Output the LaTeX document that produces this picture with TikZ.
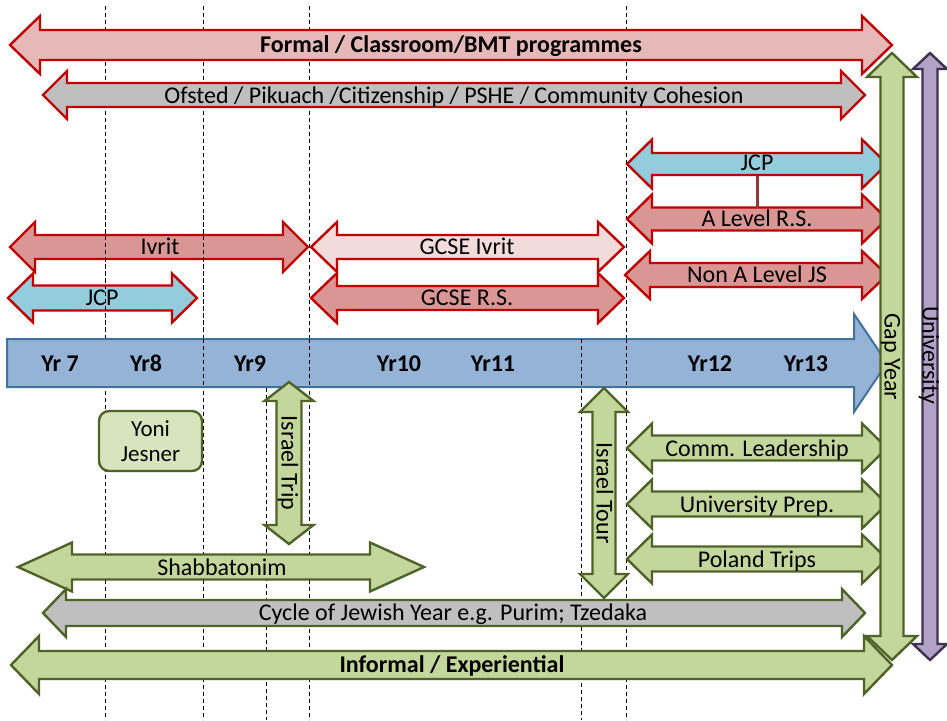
\documentclass[tikz,border=0pt]{standalone}
\usepackage{fontspec}
\setmainfont{Carlito}
\definecolor{bordRed}{HTML}{C00000}
\definecolor{fillFormal}{HTML}{E6B9B8}
\definecolor{fillGray}{HTML}{BFBFBF}
\definecolor{fillJcp}{HTML}{93CDDD}
\definecolor{fillRose}{HTML}{D99694}
\definecolor{fillPale}{HTML}{F2DCDB}
\definecolor{fillGreen}{HTML}{C3D69B}
\definecolor{bordGreen}{HTML}{4F6228}
\definecolor{fillYoni}{HTML}{D7E4BD}
\definecolor{fillBlue}{HTML}{95B3D7}
\definecolor{bordBlue}{HTML}{41719C}
\definecolor{fillPurple}{HTML}{B3A2C7}
\definecolor{bordPurple}{HTML}{403152}
\definecolor{linkRed}{HTML}{953735}
% horizontal double arrow: style, x1 tip, x2 tip, y centre, body half, head half, head length
\newcommand{\myHarrow}[7]{%
  \draw[#1] (#2,#4) -- ({#2+#7},{#4-#6}) -- ({#2+#7},{#4-#5}) -- ({#3-#7},{#4-#5}) -- ({#3-#7},{#4-#6}) -- (#3,#4)
    -- ({#3-#7},{#4+#6}) -- ({#3-#7},{#4+#5}) -- ({#2+#7},{#4+#5}) -- ({#2+#7},{#4+#6}) -- cycle;}
% vertical double arrow: style, x centre, y1 tip, y2 tip, body half, head half, head length
\newcommand{\myVarrow}[7]{%
  \draw[#1] (#2,#3) -- ({#2+#6},{#3+#7}) -- ({#2+#5},{#3+#7}) -- ({#2+#5},{#4-#7}) -- ({#2+#6},{#4-#7}) -- (#2,#4)
    -- ({#2-#6},{#4-#7}) -- ({#2-#5},{#4-#7}) -- ({#2-#5},{#3+#7}) -- ({#2-#6},{#3+#7}) -- cycle;}
\begin{document}
\begin{tikzpicture}[x=1pt,y=-1pt,
  redA/.style={draw=bordRed, line width=2.4pt, line join=miter},
  greenA/.style={draw=bordGreen, fill=fillGreen, line width=2.4pt, line join=miter},
  dashline/.style={draw=black, line width=0.9pt, dash pattern=on 4pt off 3pt},
  lbl/.style={font=\fontsize{24}{26}\selectfont, inner sep=0pt, text height=15pt, text depth=0pt},
  blbl/.style={lbl, font=\fontsize{24}{26}\selectfont\bfseries},
  link/.style={draw=linkRed, line width=3pt}]
\useasboundingbox (0,0) rectangle (947,720);
% dashed year separators (behind)
\foreach \xx in {105,203,309,626} \draw[dashline] (\xx,6) -- (\xx,720);
\draw[dashline] (266,388) -- (266,720);
\draw[dashline] (581,340) -- (581,720);
% formal arrows
\myHarrow{redA, fill=fillFormal}{10}{892}{45}{15}{29}{30}
\myHarrow{redA, fill=fillGray}{43}{865}{95}{12}{24}{24}
\myHarrow{redA, fill=fillJcp}{627}{887}{164}{11}{24.5}{25}
\myHarrow{redA, fill=fillRose}{627}{887}{219}{11.5}{24.5}{25}
\myHarrow{redA, fill=fillRose}{625}{887}{275}{12}{24}{25}
\myHarrow{redA, fill=fillRose}{10}{308}{247}{12}{25}{25}
\myHarrow{redA, fill=fillJcp}{8}{197}{298}{12.5}{24.5}{25}
\myHarrow{redA, fill=fillPale}{311}{624}{247}{12}{25}{26}
\myHarrow{redA, fill=fillRose}{311}{624}{298}{12}{25}{26}
% dashed lines visible on top of the lower red arrows
\draw[dashline] (105,215) -- (105,330);
\draw[dashline] (203,215) -- (203,330);
% connector JCP - A Level
\coordinate (jcpBot) at (757,175.5);
\coordinate (alevTop) at (757,207.5);
\draw[link] (jcpBot) -- (alevTop);
% year timeline arrow
\draw[draw=bordBlue, fill=fillBlue, line width=2pt, line join=miter]
  (7,339) -- (854,339) -- (854,314) -- (887,363) -- (854,412) -- (854,387) -- (7,387) -- cycle;
\draw[dashline] (203,339) -- (203,387);
\draw[dashline] (309,339) -- (309,387);
\draw[dashline] (581,339) -- (581,387);
\draw[dashline] (626,339) -- (626,387);
% sixth-form informal arrows (behind the gap year arrow)
\myHarrow{greenA}{627}{887}{448}{12.5}{24.5}{25}
\myHarrow{greenA}{627}{887}{504}{12.5}{24.5}{25}
\myHarrow{greenA}{627}{887}{559}{12.5}{24.5}{25}
% gap year and university
\myVarrow{greenA}{892}{53}{660}{11.5}{25}{24}
\myVarrow{draw=bordPurple, fill=fillPurple, line width=2.4pt, line join=miter}{930}{53}{660}{7.5}{17}{16}
% informal arrows
\myVarrow{greenA}{289}{382}{544}{12.5}{24.5}{19}
\myVarrow{greenA}{604}{388}{598}{11.5}{24}{24}
\myHarrow{greenA}{18}{424}{567}{12.5}{24.5}{54}
\myHarrow{draw=bordGreen, fill=fillGray, line width=2.4pt, line join=miter}{43}{865}{613}{13}{24}{23}
\myHarrow{greenA}{11}{892}{665}{14}{29}{28}
% Yoni Jesner box
\node[draw=bordGreen, fill=fillYoni, line width=2.4pt, rounded corners=10pt,
  minimum width=103pt, minimum height=60pt, inner sep=0pt] (yoniBox) at (150.5,441) {};
\node[inner sep=0pt, align=center, font=\fontsize{23}{25}\selectfont] (yoni) at (yoniBox.center) {Yoni\\Jesner};
% labels
\node[blbl] (formal) at (451,45) {Formal / Classroom/BMT programmes};
\node[lbl] (ofsted) at (454,96) {Ofsted / Pikuach /Citizenship / PSHE / Community Cohesion};
\node[lbl] (jcpR) at (757,163) {JCP};
\node[lbl] (alevel) at (757,219) {A Level R.S.};
\node[lbl] (nonalevel) at (757,275) {Non A Level JS};
\node[lbl] (ivrit) at (160,247) {Ivrit};
\node[lbl] (jcpL) at (102,298) {JCP};
\node[lbl] (gcseIvrit) at (467,247) {GCSE Ivrit};
\node[lbl] (gcseRS) at (467,298) {GCSE R.S.};
\node[blbl] (yr7) at (60,364) {Yr 7};
\node[blbl] (yr8) at (146,364) {Yr8};
\node[blbl] (yr9) at (250,364) {Yr9};
\node[blbl] (yr10) at (399,364) {Yr10};
\node[blbl] (yr11) at (493,364) {Yr11};
\node[blbl] (yr12) at (710,364) {Yr12};
\node[blbl] (yr13) at (806,364) {Yr13};
\node[lbl, rotate=-90] (gap) at (892,357) {Gap Year};
\node[lbl, rotate=-90] (uni) at (930,355) {University};
\node[lbl, rotate=-90] (itrip) at (289,463) {Israel Trip};
\node[lbl, rotate=-90] (itour) at (604,493) {Israel Tour};
\node[lbl] (comm) at (757,449) {Comm. Leadership};
\node[lbl] (uprep) at (757,505) {University Prep.};
\node[lbl] (poland) at (757,560) {Poland Trips};
\node[lbl] (shabb) at (222,568) {Shabbatonim};
\node[lbl] (cycle) at (453,613) {Cycle of Jewish Year e.g. Purim; Tzedaka};
\node[blbl] (informal) at (452,665) {Informal / Experiential};
\end{tikzpicture}
\end{document}
